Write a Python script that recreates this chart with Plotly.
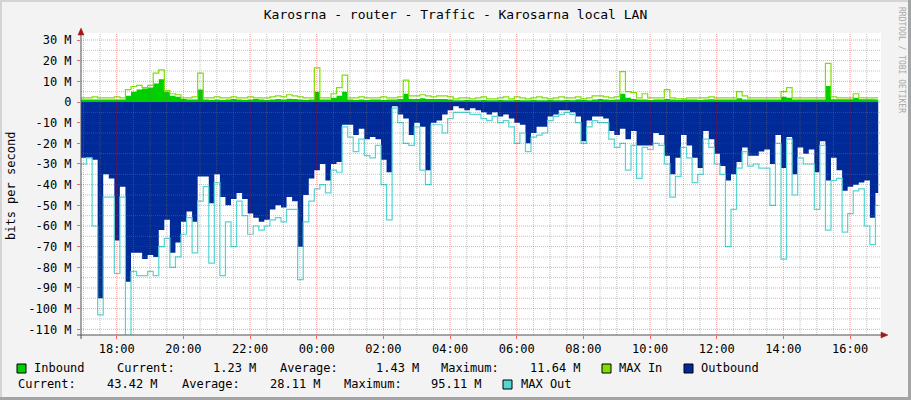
import plotly.graph_objects as go
import pandas as pd

# ---------------- data (M bits/s, 10-minute samples) ----------------
inbound = [1.2, 1.2, 1.2, 1.2, 1.2, 1.2, 1.2, 1.2, 3, 5,
           6, 6.5, 7, 9, 11, 5, 3, 2.5, 1.5, 1.2,
           1.2, 6, 1.2, 1.0, 1.2, 1.0, 1.2, 1.4, 1.2, 1.0,
           1.2, 1.4, 1.2, 1.0, 1.2, 1.5, 1.2, 1.6, 1.4, 1.2,
           1.0, 1.2, 5, 1.2, 1.2, 2, 3, 5, 1.2, 1.0,
           1.2, 1.0, 1.2, 1.2, 1.0, 1.2, 1.2, 1.4, 4, 1.5,
           1.5, 1.8, 1.5, 1.4, 1.5, 1.5, 1.2, 0.8, 0.8, 1.0,
           0.8, 0.8, 1.0, 0.8, 0.8, 1.0, 0.8, 0.8, 1.0, 0.8,
           0.8, 1.0, 0.8, 0.8, 1.0, 0.8, 0.8, 1.0, 0.8, 1.2,
           1.0, 0.8, 1.2, 1.4, 1.2, 1.0, 1.2, 4, 2, 1.5,
           1.2, 1.2, 1.0, 1.2, 1.2, 1.5, 1.2, 1.0, 1.2, 1.2,
           1.2, 1.0, 1.2, 1.3, 1.2, 1.2, 1.2, 1.2, 1.8, 1.2,
           1.2, 1.2, 1.2, 1.2, 1.2, 1.2, 2.5, 2, 1.2, 1.2,
           1.2, 1.2, 1.2, 1.2, 7.7, 1.3, 1.3, 1.3, 1.3, 2,
           1.3, 1.3, 1.3, 1.23]

max_in = [2, 2, 2.5, 2, 2, 2, 2.5, 2, 6, 7.5,
          8, 7, 8, 14, 15.5, 5.5, 4, 3.5, 2, 2,
          2.5, 14, 2, 2, 2.5, 2, 2, 2.5, 2, 2,
          2.5, 2, 2, 2, 2.5, 3, 2.5, 3.5, 3, 2.5,
          2, 2, 16.5, 2, 2, 4, 7, 13, 2, 2,
          2.5, 2, 2, 2, 2.5, 2, 2, 2.5, 10.6, 3,
          3, 3.5, 3, 2.5, 3, 3, 2.5, 1.5, 2, 2,
          1.5, 2, 2.5, 1.5, 1.5, 2, 2.5, 1.5, 2.5, 2,
          1.5, 2, 2.5, 2, 1.5, 2, 2.5, 2, 2, 2.5,
          1.5, 2, 3, 3, 2.5, 2, 2.5, 14.7, 5, 4.5,
          2, 4, 2, 2, 2, 6, 2, 1.5, 1.5, 2,
          2, 2, 2, 2.5, 2, 2, 2, 2, 5, 3,
          2, 2, 2, 2, 2, 2, 5, 7, 2, 2,
          2, 2, 2, 2, 18.7, 2.5, 2, 2, 2, 4,
          2, 2, 2, 2]

outbound = [27, 27, 28, 95, 35, 37, 67, 41, 87, 73,
            73, 76, 74, 75, 62, 57, 73, 68, 58, 53,
            58, 36, 36, 49, 35, 46, 50, 47, 44, 47,
            54, 56, 58, 57, 52, 50, 51, 46, 48, 70,
            45, 37, 33, 30, 38, 30, 29, 11, 11, 16,
            13, 18, 17, 18, 28, 34, 2, 6, 8, 16,
            10, 12, 33, 10, 9, 6, 4, 2, 3, 4,
            3, 4, 5, 6, 5, 7, 6, 8, 10, 11,
            20, 15, 12, 12, 7, 6, 4, 4, 5, 7,
            19, 9, 7, 7, 8, 14, 16, 13, 18, 14,
            21, 21, 21, 15, 16, 26, 35, 27, 16, 21,
            27, 32, 14, 18, 25, 31, 38, 35, 29, 22,
            26, 26, 24, 23, 30, 16, 32, 17, 35, 22,
            25, 23, 34, 19, 38, 27, 33, 43, 41, 40,
            39, 38, 56, 44]

max_out = [30, 27, 60, 103, 46, 46, 83, 46, 113, 82,
           84, 84, 82, 84, 70, 66, 80, 75, 64, 56,
           73, 48, 41, 78, 39, 84, 58, 70, 48, 55,
           64, 60, 62, 60, 57, 56, 58, 52, 52, 86,
           58, 48, 42, 40, 44, 33, 34, 12, 17, 24,
           18, 26, 27, 21, 40, 57, 3, 10, 20, 21,
           12, 33, 40, 11, 11, 15, 8, 5, 5, 5,
           6, 6, 8, 9, 7, 10, 9, 12, 20, 15,
           24, 17, 16, 15, 9, 7, 6, 5, 6, 10,
           20, 12, 9, 10, 10, 18, 22, 20, 33, 21,
           37, 22, 23, 20, 21, 30, 46, 36, 22, 27,
           39, 35, 18, 22, 30, 35, 70, 52, 32, 24,
           31, 30, 32, 32, 50, 20, 76, 18, 45, 27,
           30, 30, 52, 21, 62, 38, 37, 63, 54, 43,
           42, 60, 69, 50]

y_tick_values = list(range(-110, 31, 10))
y_tick_labels = [f"{v} M" if v else "0" for v in y_tick_values]

legend_line1 = [("Inbound", 33), ("Current:", 116), ("1.23 M", 212), ("Average:", 279),
                ("1.43 M", 375), ("Maximum:", 440), ("11.64 M", 529), ("MAX In", 618),
                ("Outbound", 700)]
legend_line2 = [("Current:", 17), ("43.42 M", 106), ("Average:", 181), ("28.11 M", 269),
                ("Maximum:", 343), ("95.11 M", 430), ("MAX Out", 520)]

C_IN, C_MAXIN, C_OUT, C_MAXOUT = "#00CF00", "#7FE000", "#002A97", "#55D6D3"
FONT = "DejaVu Sans Mono"

# ---------------- time axis ----------------
t0 = pd.Timestamp("2024-05-14 16:55:40")
step = pd.Timedelta(minutes=10)
n = len(outbound)
times = [t0 + i * step for i in range(n)] + [t0 + pd.Timedelta(minutes=1435)]
t_end = t0 + pd.Timedelta(hours=24)


def closed(vals, sign=1):
    v = [sign * x for x in vals]
    return v + [v[-1]]


fig = go.Figure()
fig.add_trace(go.Scatter(x=times, y=closed(inbound), mode="lines", line_shape="hv",
                         line=dict(width=0, color=C_IN), fill="tozeroy", fillcolor=C_IN))
fig.add_trace(go.Scatter(x=times, y=closed(max_in), mode="lines", line_shape="hv",
                         line=dict(width=1.2, color=C_MAXIN)))
fig.add_trace(go.Scatter(x=times, y=closed(outbound, -1), mode="lines", line_shape="hv",
                         line=dict(width=0, color=C_OUT), fill="tozeroy", fillcolor=C_OUT))
fig.add_trace(go.Scatter(x=times, y=closed(max_out, -1), mode="lines", line_shape="hv",
                         line=dict(width=1.2, color=C_MAXOUT)))

# pixel helpers
PL, PR, PT, PB = 81, 881, 33, 335


def fx(px):
    return (px - PL) / (PR - PL)


def fy(py):
    return (PB - py) / (PB - PT)


shapes = []
MAJ = "rgba(255,0,0,0.38)"
MIN = "rgba(120,120,120,0.45)"
DASH = "1px,1px"

# vertical grid every 30 minutes
g = t0.ceil("30min")
while g < t_end:
    major = g.minute == 0 and g.hour % 2 == 0
    shapes.append(dict(type="line", xref="x", yref="paper", x0=g.isoformat(), x1=g.isoformat(),
                       y0=0, y1=1, layer="above",
                       line=dict(color=MAJ if major else MIN, width=1, dash=DASH)))
    g += pd.Timedelta(minutes=30)
# horizontal grid every 5 M
for v in range(-110, 31, 5):
    shapes.append(dict(type="line", xref="paper", yref="y", x0=0, x1=1, y0=v, y1=v, layer="above",
                       line=dict(color=MAJ if v % 10 == 0 else MIN, width=1, dash=DASH)))

# axis lines + arrows
AX = "#505050"
shapes.append(dict(type="line", xref="paper", yref="paper", x0=fx(77), x1=fx(883), y0=fy(335), y1=fy(335),
                   line=dict(color=AX, width=1), layer="above"))
shapes.append(dict(type="line", xref="paper", yref="paper", x0=fx(81), x1=fx(81), y0=fy(339), y1=fy(32),
                   line=dict(color=AX, width=1), layer="above"))
ARC = "#A01818"
shapes.append(dict(type="path", xref="paper", yref="paper", layer="above",
                   path=f"M {fx(78)} {fy(35)} L {fx(81)} {fy(28)} L {fx(84)} {fy(35)} Z",
                   fillcolor=ARC, line=dict(color=ARC, width=0.5)))
shapes.append(dict(type="path", xref="paper", yref="paper", layer="above",
                   path=f"M {fx(881)} {fy(332)} L {fx(888)} {fy(335)} L {fx(881)} {fy(338)} Z",
                   fillcolor=ARC, line=dict(color=ARC, width=0.5)))

# border shading
shapes.append(dict(type="rect", xref="paper", yref="paper", x0=fx(908), x1=fx(911), y0=fy(400), y1=fy(0),
                   fillcolor="#A4A4A4", line=dict(width=0), layer="above"))
shapes.append(dict(type="rect", xref="paper", yref="paper", x0=fx(0), x1=fx(911), y0=fy(400), y1=fy(397),
                   fillcolor="#A4A4A4", line=dict(width=0), layer="above"))
shapes.append(dict(type="rect", xref="paper", yref="paper", x0=fx(0), x1=fx(908), y0=fy(2), y1=fy(0),
                   fillcolor="#D4D4D4", line=dict(width=0), layer="above"))
shapes.append(dict(type="rect", xref="paper", yref="paper", x0=fx(0), x1=fx(2), y0=fy(397), y1=fy(0),
                   fillcolor="#D4D4D4", line=dict(width=0), layer="above"))

# legend swatches
for col, px, py in [(C_IN, 17, 364), (C_MAXIN, 602, 364), (C_OUT, 684, 364), (C_MAXOUT, 503, 380)]:
    shapes.append(dict(type="rect", xref="paper", yref="paper", x0=fx(px), x1=fx(px + 9),
                       y0=fy(py + 9), y1=fy(py), fillcolor=col, line=dict(color="#000000", width=1)))

annotations = []
for items, py in [(legend_line1, 368), (legend_line2, 384)]:
    for txt, px in items:
        annotations.append(dict(text=txt, xref="paper", yref="paper", x=fx(px), y=fy(py),
                                xanchor="left", yanchor="middle", showarrow=False,
                                font=dict(family=FONT, size=12, color="#000000"), borderpad=0))
annotations.append(dict(text="bits per second", xref="paper", yref="paper", x=fx(11), y=fy(186),
                        textangle=-90, xanchor="center", yanchor="middle", showarrow=False,
                        font=dict(family=FONT, size=12, color="#000000")))
annotations.append(dict(text="RRDTOOL / TOBI OETIKER", xref="paper", yref="paper", x=fx(902), y=fy(60),
                        textangle=90, xanchor="center", yanchor="middle", showarrow=False,
                        font=dict(family=FONT, size=8, color="#A8A8A8")))

x_tick_values = []
g = t0.ceil("2h")
while g < t_end:
    x_tick_values.append(g)
    g += pd.Timedelta(hours=2)

fig.update_layout(
    width=911, height=400,
    margin=dict(l=PL, r=911 - PR, t=PT, b=400 - PB),
    paper_bgcolor="#F3F3F3", plot_bgcolor="#FFFFFF",
    showlegend=False,
    font=dict(family=FONT, size=12, color="#000000"),
    title=dict(text="Karosrna - router - Traffic - Karosarna local LAN", x=0.5, xref="container",
               xanchor="center", y=1 - 14 / 400, yref="container", yanchor="middle",
               font=dict(family=FONT, size=13, color="#000000")),
    xaxis=dict(type="date", range=[t0, t_end], showgrid=False, zeroline=False, showline=False,
               tickvals=x_tick_values, tickformat="%H:%M", ticks="outside", ticklen=3,
               tickcolor="rgba(255,0,0,0.6)", tickfont=dict(family=FONT, size=12)),
    yaxis=dict(range=[-112.76, 33.39], showgrid=False, zeroline=False, showline=False,
               tickvals=y_tick_values, ticktext=y_tick_labels, ticks="outside", ticklen=3,
               tickcolor="rgba(255,0,0,0.6)", tickfont=dict(family=FONT, size=12),
               ticklabelstandoff=3),
    shapes=shapes, annotations=annotations,
)

fig.write_html("out.html", config={"displayModeBar": False, "staticPlot": True},
               post_script="document.body.style.margin='0px';document.body.style.overflow='hidden';")
